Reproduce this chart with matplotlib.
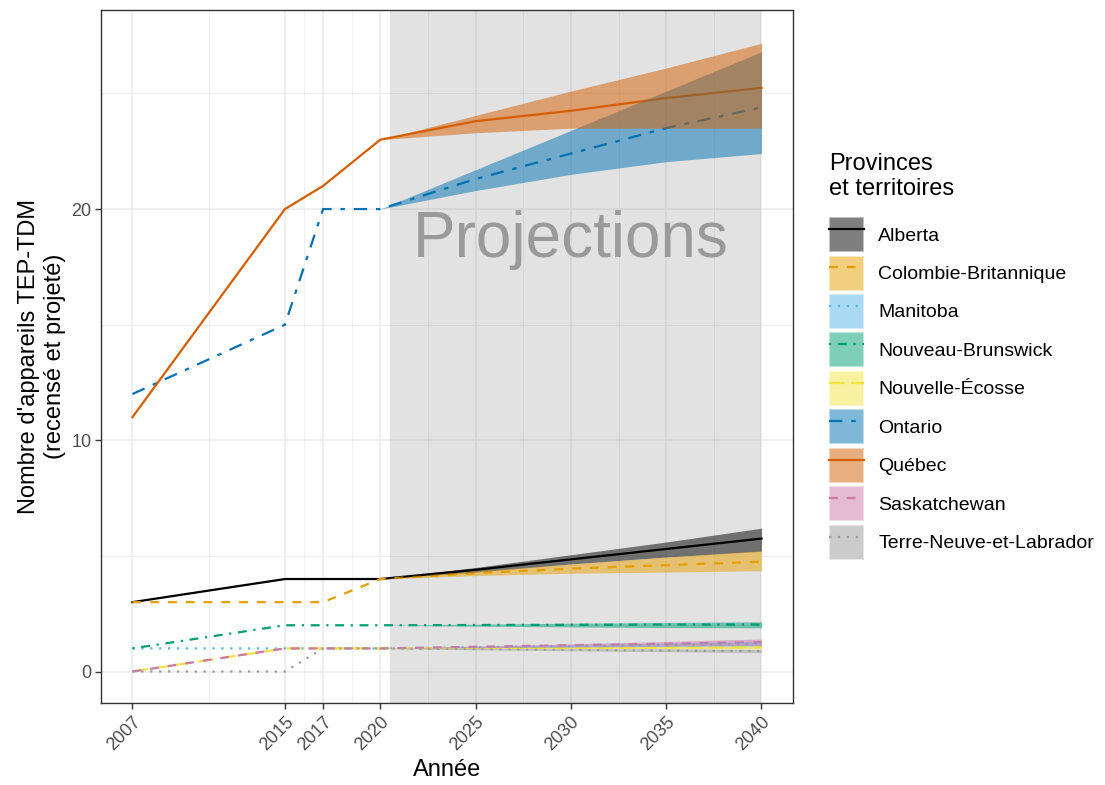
import matplotlib.pyplot as plt
import numpy as np
from matplotlib.patches import Patch
from matplotlib.lines import Line2D

plt.rcParams['font.family'] = ['Liberation Sans', 'DejaVu Sans']

provinces = ['Alberta', 'Colombie-Britannique', 'Manitoba', 'Nouveau-Brunswick',
             'Nouvelle-Écosse', 'Ontario', 'Québec', 'Saskatchewan',
             'Terre-Neuve-et-Labrador']
colors = ['#000000', '#E69F00', '#56B4E9', '#009E73', '#F0E442',
          '#0072B2', '#D55E00', '#CC79A7', '#999999']
# ggplot linetypes: solid, dashed, dotted, dotdash, longdash, twodash
dashes = [None, (4, 4), (1, 3), (1, 3, 4, 3), (7, 3), (6, 4, 2, 4),
          None, (4, 4), (1, 3)]

hist_years = [2007, 2015, 2017, 2020]
hist = {
    'Alberta': [3, 4, 4, 4],
    'Colombie-Britannique': [3, 3, 3, 4],
    'Manitoba': [1, 1, 1, 1],
    'Nouveau-Brunswick': [1, 2, 2, 2],
    'Nouvelle-Écosse': [0, 1, 1, 1],
    'Ontario': [12, 15, 20, 20],
    'Québec': [11, 20, 21, 23],
    'Saskatchewan': [0, 1, 1, 1],
    'Terre-Neuve-et-Labrador': [0, 0, 1, 1],
}

proj_years = [2020, 2025, 2030, 2035, 2040]
proj = {
    'Alberta': [4, 4.4, 4.85, 5.3, 5.75],
    'Colombie-Britannique': [4, 4.25, 4.45, 4.6, 4.75],
    'Manitoba': [1, 1.05, 1.1, 1.15, 1.2],
    'Nouveau-Brunswick': [2, 2.01, 2.02, 2.03, 2.03],
    'Nouvelle-Écosse': [1, 1.01, 1.02, 1.04, 1.05],
    'Ontario': [20, 21.3, 22.4, 23.5, 24.4],
    'Québec': [23, 23.8, 24.25, 24.8, 25.24],
    'Saskatchewan': [1, 1.07, 1.14, 1.2, 1.27],
    'Terre-Neuve-et-Labrador': [1, 0.97, 0.94, 0.91, 0.88],
}
proj_low = {
    'Alberta': [4, 4.3, 4.65, 4.95, 5.2],
    'Colombie-Britannique': [4, 4.15, 4.25, 4.3, 4.36],
    'Manitoba': [1, 1.02, 1.05, 1.08, 1.1],
    'Nouveau-Brunswick': [2, 1.96, 1.93, 1.9, 1.89],
    'Nouvelle-Écosse': [1, 0.99, 0.98, 0.98, 0.97],
    'Ontario': [20, 20.8, 21.5, 22.05, 22.4],
    'Québec': [23, 23.3, 23.5, 23.5, 23.5],
    'Saskatchewan': [1, 1.03, 1.06, 1.1, 1.13],
    'Terre-Neuve-et-Labrador': [1, 0.94, 0.9, 0.86, 0.82],
}
proj_high = {
    'Alberta': [4, 4.5, 5.05, 5.6, 6.2],
    'Colombie-Britannique': [4, 4.35, 4.65, 4.95, 5.23],
    'Manitoba': [1, 1.08, 1.16, 1.23, 1.3],
    'Nouveau-Brunswick': [2, 2.05, 2.09, 2.12, 2.15],
    'Nouvelle-Écosse': [1, 1.03, 1.06, 1.09, 1.12],
    'Ontario': [20, 21.7, 23.4, 25.1, 26.8],
    'Québec': [23, 24.05, 25.1, 26.1, 27.17],
    'Saskatchewan': [1, 1.1, 1.2, 1.3, 1.41],
    'Terre-Neuve-et-Labrador': [1, 1.0, 0.99, 0.97, 0.95],
}

x_breaks = [2007, 2015, 2017, 2020, 2025, 2030, 2035, 2040]

fig = plt.figure(figsize=(11.05, 7.85), dpi=100)
ax = fig.add_axes([0.0914, 0.1045, 0.6262, 0.8825])

ax.set_xlim(2005.35, 2041.65)
ax.set_ylim(-1.36, 28.6)

# ggplot-like panel grid
for xv in x_breaks:
    ax.axvline(xv, color='#EBEBEB', lw=1.1, zorder=0)
for xv in [2011, 2016, 2018.5, 2022.5, 2027.5, 2032.5, 2037.5]:
    ax.axvline(xv, color='#EBEBEB', lw=0.55, zorder=0)
for yv in [0, 10, 20]:
    ax.axhline(yv, color='#EBEBEB', lw=1.1, zorder=0)
for yv in [5, 15, 25]:
    ax.axhline(yv, color='#EBEBEB', lw=0.55, zorder=0)

ax.axvspan(2020.5, 2040, color='#7F7F7F', alpha=0.22, lw=0, zorder=1)
ax.text(2030, 18.65, 'Projections', fontsize=46, color='#9A9A9A',
        ha='center', va='center', zorder=2)

handles = []
for name, c, d in zip(provinces, colors, dashes):
    xs = hist_years + proj_years[1:]
    ys = hist[name] + proj[name][1:]
    ln, = ax.plot(xs, ys, color=c, lw=1.6, zorder=3)
    if d is not None:
        ln.set_dashes(d)
    ax.fill_between(proj_years, proj_low[name], proj_high[name],
                    color=c, alpha=0.5, lw=0, zorder=4)
    key_line = Line2D([], [], color=c, lw=1.6)
    if d is not None:
        key_line.set_dashes(d)
    handles.append((Patch(facecolor=c, alpha=0.5, edgecolor='white', lw=1.5), key_line))

ax.set_xticks(x_breaks)
ax.set_xticklabels([str(v) for v in x_breaks], rotation=45, ha='right',
                   rotation_mode='anchor')
ax.set_yticks([0, 10, 20])
ax.tick_params(axis='both', colors='#333333', labelcolor='#4D4D4D',
               labelsize=13, length=4, width=1)
ax.tick_params(axis='y', pad=3)
for sp in ax.spines.values():
    sp.set_color('#333333')
    sp.set_linewidth(1)

ax.set_xlabel('Année', fontsize=17, labelpad=4)
ax.set_ylabel("Nombre d'appareils TEP-TDM\n(recensé et projeté)", fontsize=17)
ax.yaxis.set_label_coords(-0.051, 0.5)

leg = fig.legend(handles, provinces, loc='upper left', bbox_to_anchor=(0.7435, 0.815),
                 title='Provinces\net territoires', title_fontsize=17, fontsize=14,
                 frameon=False, handlelength=1.8, handleheight=2.39,
                 labelspacing=0.18, handletextpad=0.72, borderaxespad=0)
leg._legend_box.align = 'left'
leg._legend_box.sep = 12

fig.savefig('out.png', dpi=100)
